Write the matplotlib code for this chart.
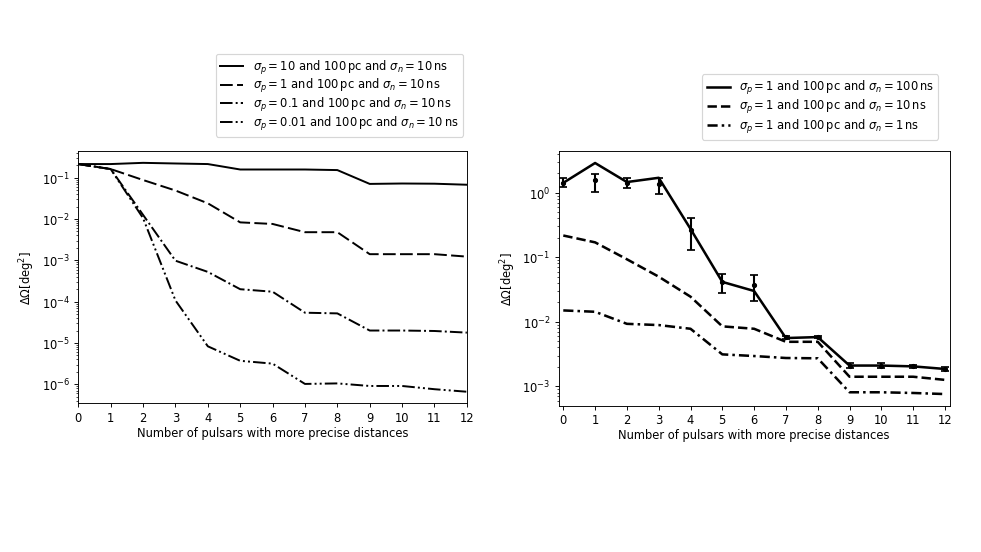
import matplotlib
matplotlib.use("Agg")
import matplotlib.pyplot as plt

x = list(range(13))
xticks = list(range(13))

# Left panel: sigma_n = 10 ns, varying sigma_p
left_p10 = [0.214, 0.214, 0.229, 0.221, 0.214, 0.158, 0.158, 0.158, 0.153, 0.0708, 0.0724, 0.0716, 0.0676]
left_p1 = [0.214, 0.162, 0.0879, 0.049, 0.024, 0.0083, 0.0076, 0.0048, 0.0048, 0.00141, 0.00141, 0.00141, 0.00123]
left_p01 = [0.214, 0.162, 0.0126, 0.00098, 0.000525, 0.0002, 0.000174, 5.4e-5, 5.2e-5, 2.0e-5, 2.0e-5, 1.95e-5, 1.78e-5]
left_p001 = [0.214, 0.162, 0.0105, 0.000107, 8.3e-6, 3.7e-6, 3.16e-6, 1.02e-6, 1.05e-6, 9.1e-7, 9.1e-7, 7.6e-7, 6.6e-7]
left_labels = [r"$\sigma_p = 10$ and 100$\,$pc and $\sigma_n = 10\,$ns",
               r"$\sigma_p = 1$ and 100$\,$pc and $\sigma_n = 10\,$ns",
               r"$\sigma_p = 0.1$ and 100$\,$pc and $\sigma_n = 10\,$ns",
               r"$\sigma_p = 0.01$ and 100$\,$pc and $\sigma_n = 10\,$ns"]

# Right panel: sigma_p = 1 and 100 pc, varying sigma_n
right_n100 = [1.42, 2.88, 1.46, 1.70, 0.275, 0.0415, 0.030, 0.0056, 0.0058, 0.0021, 0.0021, 0.00204, 0.00186]
right_n100_pts = [1.42, 1.55, 1.42, 1.34, 0.265, 0.0417, 0.037, 0.00585, 0.00585, 0.0021, 0.0021, 0.00204, 0.00187]
right_n100_hi = [1.70, 1.98, 1.70, 1.70, 0.40, 0.0547, 0.054, 0.00612, 0.00612, 0.00228, 0.0023, 0.00218, 0.0020]
right_n100_lo = [1.22, 1.035, 1.165, 0.94, 0.128, 0.0283, 0.021, 0.00545, 0.0056, 0.00194, 0.00194, 0.00194, 0.00174]
right_n10 = [0.217, 0.17, 0.093, 0.050, 0.0245, 0.0085, 0.0078, 0.0049, 0.0049, 0.00141, 0.00141, 0.00141, 0.00126]
right_n1 = [0.015, 0.0143, 0.0093, 0.0089, 0.0078, 0.00313, 0.00295, 0.00275, 0.00272, 0.00081, 0.00081, 0.00079, 0.00076]
right_labels = [r"$\sigma_p = 1$ and 100$\,$pc and $\sigma_n = 100\,$ns",
                r"$\sigma_p = 1$ and 100$\,$pc and $\sigma_n = 10\,$ns",
                r"$\sigma_p = 1$ and 100$\,$pc and $\sigma_n = 1\,$ns"]

xlabel = "Number of pulsars with more precise distances"
ylabel = r"$\Delta\Omega[\mathrm{deg}^2]$"

DPI = 83
fig = plt.figure(figsize=(981.4 / DPI, 552.4 / DPI), dpi=DPI)
ax1 = fig.add_axes([0.0798, 0.2694, 0.3959, 0.4558])
ax2 = fig.add_axes([0.5691, 0.2650, 0.3986, 0.4601])

lw1 = 1.7
ax1.plot(x, left_p10, color="black", lw=lw1, ls="-", label=left_labels[0])
ax1.plot(x, left_p1, color="black", lw=lw1, ls=(0, (6.5, 2.2)), label=left_labels[1])
ax1.plot(x, left_p01, color="black", lw=lw1, ls=(0, (6.4, 1.6, 1, 1.6)), label=left_labels[2])
ax1.plot(x, left_p001, color="black", lw=lw1, ls=(0, (6.4, 1.6, 1, 1.6, 1, 1.6)), label=left_labels[3])
ax1.set_yscale("log")
ax1.set_xlim(0, 12)
ax1.set_xticks(xticks)
ax1.set_xlabel(xlabel, fontsize=10, labelpad=2)
ax1.set_ylabel(ylabel, fontsize=10)
ax1.legend(loc="lower right", bbox_to_anchor=(0.99, 1.058), borderaxespad=0,
           fontsize=10, labelspacing=0.05)

lw2 = 2.2
ax2.plot(x, right_n100, color="black", lw=lw2, ls="-", label=right_labels[0])
ax2.plot(x, right_n10, color="black", lw=lw2, ls="--", label=right_labels[1])
ax2.plot(x, right_n1, color="black", lw=lw2, ls=(0, (4, 1.6, 1, 1.6)), label=right_labels[2])
yerr_lo = [p - l for p, l in zip(right_n100_pts, right_n100_lo)]
yerr_hi = [h - p for p, h in zip(right_n100_pts, right_n100_hi)]
ax2.errorbar(x, right_n100_pts, yerr=[yerr_lo, yerr_hi], fmt=".", color="black",
             ecolor="black", elinewidth=1.8, capsize=3.5, capthick=1.5, markersize=7)
ax2.set_yscale("log")
ax2.set_xlim(-0.15, 12.15)
ax2.set_xticks(xticks)
ax2.set_xlabel(xlabel, fontsize=10, labelpad=2)
ax2.set_ylabel(ylabel, fontsize=10)
ax2.legend(loc="lower right", bbox_to_anchor=(0.971, 1.046), borderaxespad=0,
           fontsize=10, labelspacing=0.1)

fig.savefig("out.png", dpi=DPI)
